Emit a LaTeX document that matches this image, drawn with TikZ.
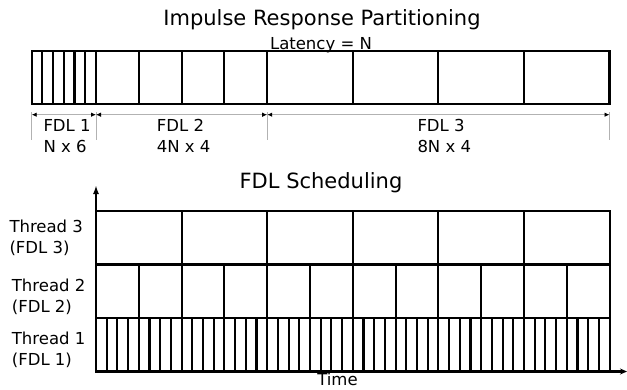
\documentclass[tikz,border=0pt]{standalone}
\usepackage{fontspec}
\setmainfont{DejaVu Sans}
\usetikzlibrary{arrows.meta}

\tikzset{
  cellline/.style={line width=2.1pt},
  dimline/.style={gray!60, line width=0.9pt},
  dimarrow/.style={dimline, {Latex[length=5pt,width=4.5pt,color=black]}-{Latex[length=5pt,width=4.5pt,color=black]}},
  axisline/.style={line width=2.1pt},
  titletext/.style={font=\fontsize{21}{25}\selectfont, inner sep=0pt},
  labeltext/.style={font=\fontsize{16.5}{21}\selectfont, align=left, inner sep=0pt},
}

\begin{document}
\begin{tikzpicture}[x=1pt,y=-1pt]

  \useasboundingbox (0,0) rectangle (627,389);

  \def\N{10.7}

  \coordinate (B0) at (31.7,51);
  \coordinate (B1) at (609.5,104);
  \coordinate (D0) at (31.7,114.7);
  \coordinate (D1) at (96,114.7);
  \coordinate (D2) at (267.2,114.7);
  \coordinate (D3) at (609.5,114.7);
  \coordinate (O) at (96,371.5);
  \coordinate (Ytop) at (96,185);
  \coordinate (Xend) at (627,371.5);

  % Titles
  \node[titletext, anchor=base] (irtitle) at (322,25.7) {Impulse Response Partitioning};
  \node[labeltext, anchor=base] (latency) at (321,49) {Latency = N};
  \node[titletext, anchor=base] (schedtitle) at (321,188.3) {FDL Scheduling};

  % Draw partitions
  \draw[cellline] (B0) rectangle (B1);
  \foreach \i in {1,...,6}
    \draw[cellline] ({31.7+\i*\N},51) -- ({31.7+\i*\N},104);
  \foreach \i in {1,...,4}
    \draw[cellline] ({96+\i*4*\N},51) -- ({96+\i*4*\N},104);
  \foreach \i in {1,...,3}
    \draw[cellline] ({267.2+\i*8*\N},51) -- ({267.2+\i*8*\N},104);

  % Dimension lines
  \foreach \d in {D0,D1,D2,D3}
    \draw[dimline] ([yshift=2.5pt]\d) -- ([yshift=-25.5pt]\d);
  \draw[dimarrow] (D0) -- (D1);
  \draw[dimarrow] (D1) -- (D2);
  \draw[dimarrow] (D2) -- (D3);

  \node[labeltext, anchor=west] (fdl1) at (43.3,136) {FDL 1\\N x 6};
  \node[labeltext, anchor=west] (fdl2) at (156.7,136) {FDL 2\\4N x 4};
  \node[labeltext, anchor=west] (fdl3) at (417.3,136) {FDL 3\\8N x 4};

  % Draw threads
  \foreach \y/\w in {211/8, 264.5/4, 318/1}
    \foreach \i in {0,...,47}{
      \pgfmathparse{mod(\i,\w)==0 ? 1 : 0}
      \ifnum\pgfmathresult=1
        \draw[cellline] ({96+\i*\N},\y) -- ({96+\i*\N},{\y+53.5});
      \fi
    }
  \draw[cellline] (96,211) rectangle (609.6,371.5);
  \draw[cellline] (96,264.5) -- (609.6,264.5);
  \draw[cellline] (96,318) -- (609.6,318);

  % Axes
  \draw[axisline, -{Latex[length=9pt,width=6pt]}] (O) -- (Ytop);
  \draw[axisline, -{Stealth[length=7pt,width=6pt]}] (O) -- (Xend);
  \node[labeltext, anchor=base] (time) at (337.5,385.5) {Time};

  \node[labeltext, anchor=west] (thread3) at (9.3,238) {Thread 3\\(FDL 3)};
  \node[labeltext, anchor=west] (thread2) at (11.7,297) {Thread 2\\(FDL 2)};
  \node[labeltext, anchor=west] (thread1) at (11.7,350) {Thread 1\\(FDL 1)};

\end{tikzpicture}
\end{document}
